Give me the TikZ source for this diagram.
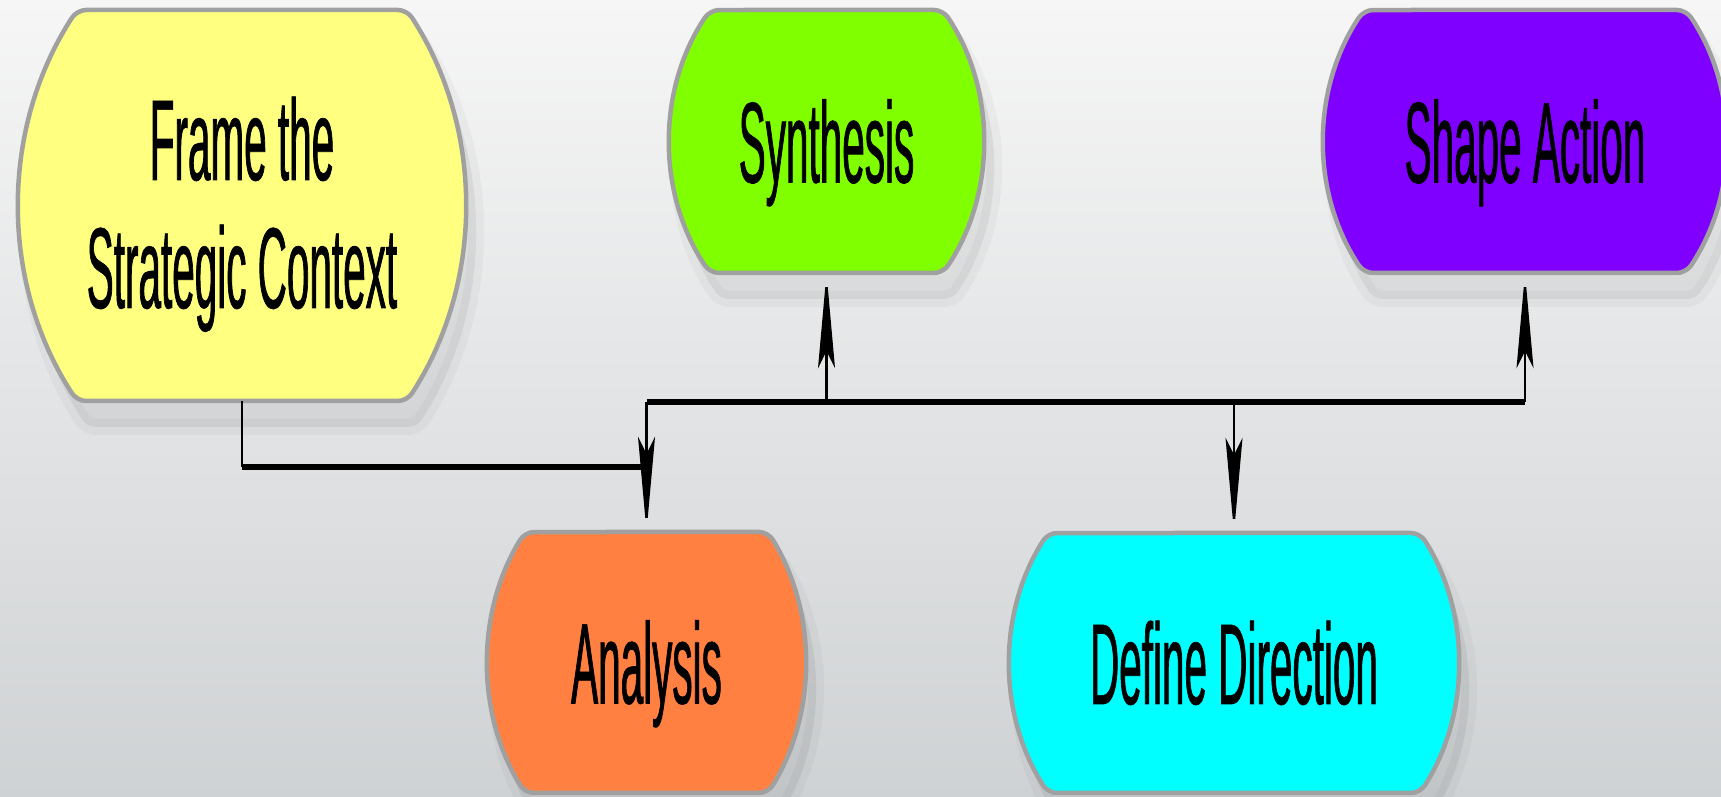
\documentclass[tikz,border=0pt]{standalone}
\usepackage{fontspec}
\usetikzlibrary{arrows.meta}
\newfontfamily\nodefont[FakeStretch=0.352,FakeBold=0.6]{Liberation Sans}
\definecolor{bgtop}{HTML}{F6F6F6}
\definecolor{bgbot}{HTML}{CFD2D4}
\definecolor{bordergray}{HTML}{A0A0A0}
\definecolor{cyellow}{HTML}{FFFF80}
\definecolor{cgreen}{HTML}{80FF00}
\definecolor{cpurple}{HTML}{8000FF}
\definecolor{corange}{HTML}{FF8040}
\definecolor{ccyan}{HTML}{00FFFF}
\tikzset{
  barrelst/.style={draw=bordergray, line width=4.5pt, line join=round, rounded corners=9pt},
  shadowst/.style={fill=black, fill opacity=0.06, draw=black, draw opacity=0.03, line width=16pt, line join=round, rounded corners=9pt},
  labelst/.style={anchor=base, inner sep=0pt, font=\nodefont\fontsize{115}{128}\selectfont},
  thinln/.style={draw=black, line width=2.5pt},
  thickln/.style={draw=black, line width=6.5pt},
  arr/.style={-{Stealth[length=95pt,width=17pt,inset=17pt]}},
}
% #1 name, #2 cx, #3 cy, #4 half flat width, #5 half height, #6 bulge, #7 colour
\newcommand\barrelnode[7]{%
  \pgfmathsetmacro\bRad{(#5/(2*#6))*#5+#6/2}%
  \pgfmathsetmacro\bAng{asin(#5/\bRad)}%
  \pgfmathsetmacro\bW{2*(#4+#6)}%
  \pgfmathsetmacro\bH{2*#5}%
  \begin{scope}[shift={(10,-26)}]
    \path[shadowst] (#2,{#3+#5}) -- ({#2+#4},{#3+#5}) arc[start angle=\bAng, end angle=-\bAng, radius=\bRad]
      -- ({#2-#4},{#3-#5}) arc[start angle=180+\bAng, end angle=180-\bAng, radius=\bRad] -- cycle;
  \end{scope}
  \path[barrelst, fill=#7] (#2,{#3+#5}) -- ({#2+#4},{#3+#5}) arc[start angle=\bAng, end angle=-\bAng, radius=\bRad]
      -- ({#2-#4},{#3-#5}) arc[start angle=180+\bAng, end angle=180-\bAng, radius=\bRad] -- cycle;
  \node[minimum width=\bW pt, minimum height=\bH pt, inner sep=0pt] (#1) at (#2,#3) {};
}
\begin{document}
\begin{tikzpicture}[x=1pt,y=1pt]
\useasboundingbox (0,0) rectangle (1721,797);
\clip (0,0) rectangle (1721,797);
\shade[top color=bgtop, bottom color=bgbot] (0,0) rectangle (1721,797);

\barrelnode{frame}{242}{591.5}{165}{195.5}{58}{cyellow}
\barrelnode{synth}{826.5}{655.5}{116.5}{131.5}{40}{cgreen}
\barrelnode{shape}{1525}{655.5}{161}{131.5}{40}{cpurple}
\barrelnode{anal}{646.5}{134.5}{121.5}{130.5}{37}{corange}
\barrelnode{defdir}{1234}{134}{186}{130}{38}{ccyan}

\node[labelst] (frame-t1) at ([yshift=25.5pt]frame.center) {Frame the};
\node[labelst] (frame-t2) at ([yshift=-102.5pt]frame.center) {Strategic Context};
\node[labelst] (synth-t) at ([yshift=-41pt]synth.center) {Synthesis};
\node[labelst] (shape-t) at ([yshift=-41pt]shape.center) {Shape Action};
\node[labelst] (anal-t) at ([yshift=-41pt]anal.center) {Analysis};
\node[labelst] (defdir-t) at ([yshift=-41pt]defdir.center) {Define Direction};

\coordinate (j1) at (frame.south |- 0,330);
\coordinate (busL) at (anal.north |- 0,395);
\coordinate (busR) at (shape.south |- 0,395);

\draw[thinln] (frame.south) -- (j1);
\draw[thickln] (j1) -- (j1 -| anal.north);
\draw[thickln] (busL) -- (busR);
\draw[thinln, arr] (busL) -- (anal.north);
\draw[thinln, arr] (defdir.north |- busL) -- (defdir.north);
\draw[thinln, arr] (synth.south |- busL) -- (synth.south);
\draw[thinln, arr] (busR) -- (shape.south);
\end{tikzpicture}
\end{document}
